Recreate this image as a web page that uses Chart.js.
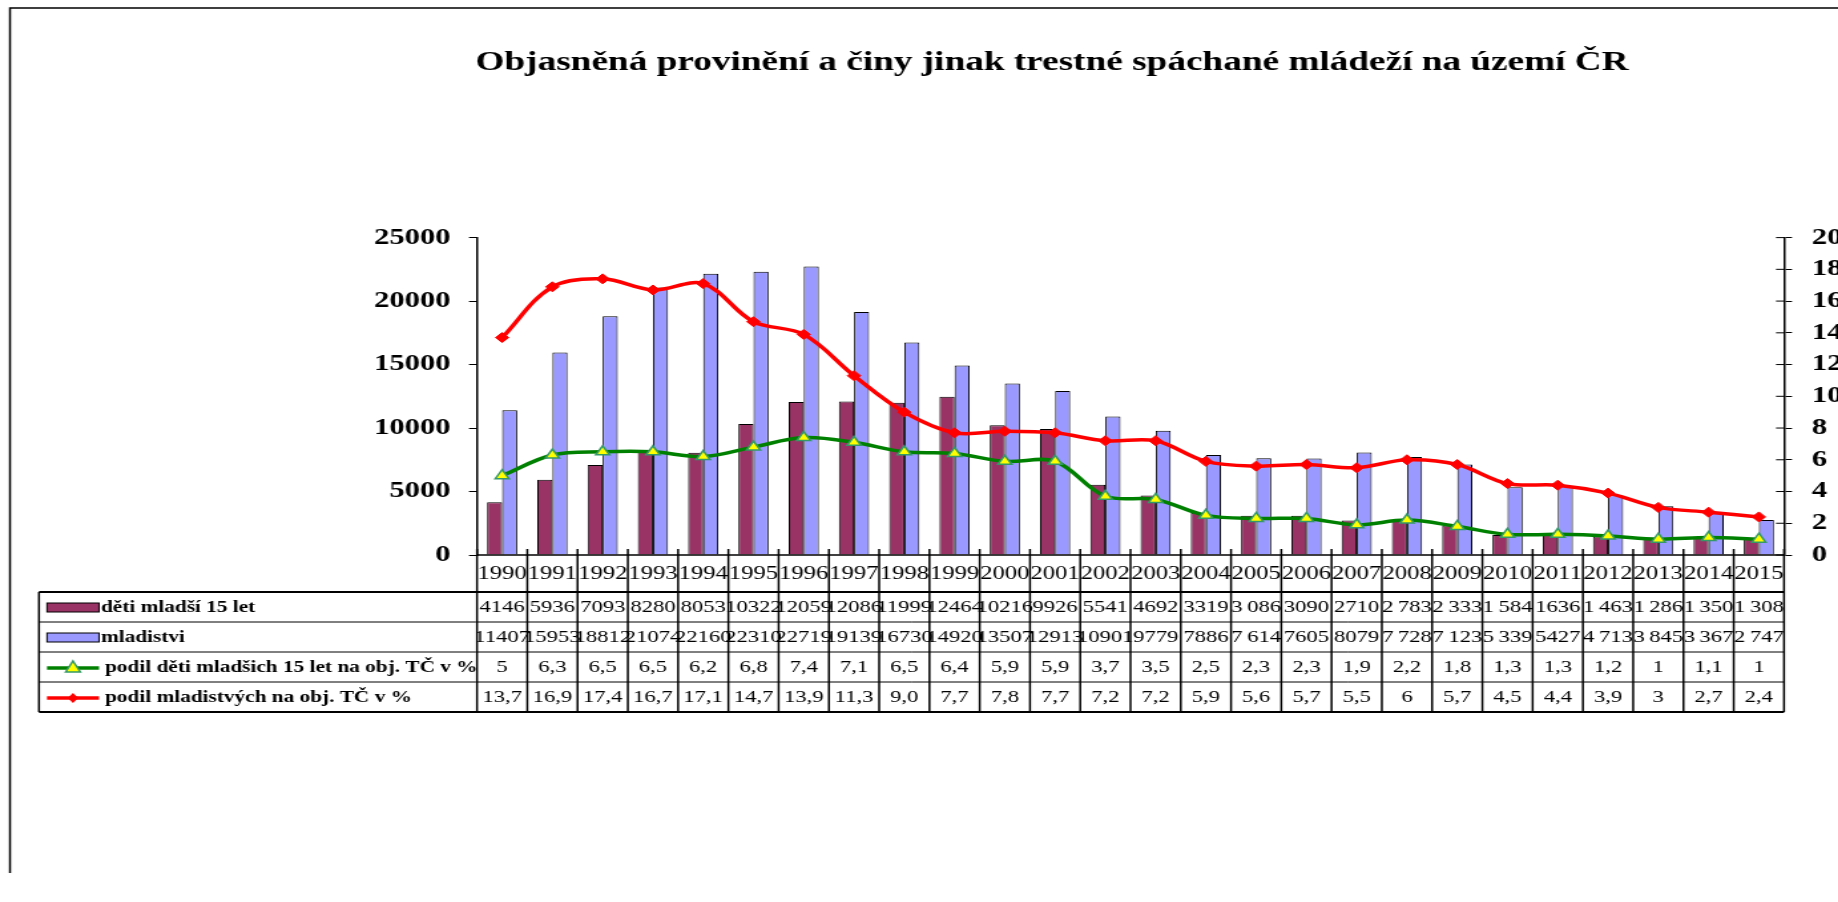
<!DOCTYPE html>
<html lang="cs">
<head>
<meta charset="utf-8">
<title>Objasněná provinění a činy jinak trestné spáchané mládeží na území ČR</title>
<script src="https://cdn.jsdelivr.net/npm/chart.js@4.4.1/dist/chart.umd.min.js"></script>
<style>
    html, body { margin: 0; padding: 0; background: #fff; overflow: hidden; }
    #wrap { width: 1838px; height: 902px; overflow: hidden; }
    /* the source picture is stretched sideways, so is the canvas */
    #chart { display: block; transform: scaleX(1.33); transform-origin: 0 0; }
</style>
</head>
<body>
<div id="wrap"><canvas id="chart" width="1382" height="902"></canvas></div>
<script>
// ── Data ──────────────────────────────
const years = ['1990', '1991', '1992', '1993', '1994', '1995', '1996', '1997', '1998', '1999', '2000', '2001', '2002',
    '2003', '2004', '2005', '2006', '2007', '2008', '2009', '2010', '2011', '2012', '2013', '2014', '2015'];
const kids = [4146, 5936, 7093, 8280, 8053, 10322, 12059, 12086, 11999, 12464, 10216, 9926, 5541,
    4692, 3319, 3086, 3090, 2710, 2783, 2333, 1584, 1636, 1463, 1286, 1350, 1308];
const youth = [11407, 15953, 18812, 21074, 22160, 22310, 22719, 19139, 16730, 14920, 13507, 12913, 10901,
    9779, 7886, 7614, 7605, 8079, 7728, 7123, 5339, 5427, 4713, 3845, 3367, 2747];
const kidsShare = [5, 6.3, 6.5, 6.5, 6.2, 6.8, 7.4, 7.1, 6.5, 6.4, 5.9, 5.9, 3.7,
    3.5, 2.5, 2.3, 2.3, 1.9, 2.2, 1.8, 1.3, 1.3, 1.2, 1, 1.1, 1];
const youthShare = [13.7, 16.9, 17.4, 16.7, 17.1, 14.7, 13.9, 11.3, 9.0, 7.7, 7.8, 7.7, 7.2,
    7.2, 5.9, 5.6, 5.7, 5.5, 6, 5.7, 4.5, 4.4, 3.9, 3, 2.7, 2.4];
// columns where the table writes the thousands with a space
const spacedCols = [15, 18, 19, 20, 22, 23, 24, 25];
const seriesNames = ['děti mladší 15 let', 'mladistvi', 'podil děti mladšich 15 let na obj. TČ v %', 'podil mladistvých na obj. TČ v %'];
const title = 'Objasněná provinění a činy jinak trestné spáchané mládeží na území ČR';

// ── Look ──────────────────────────────
const S = 1.33;                      // horizontal stretch of the canvas
const PURPLE = '#993366', LAVENDER = '#9999FF', GREEN = '#008000', RED = '#FF0000';
const SERIF = "'Liberation Serif', 'Times New Roman', serif";
const ROWS = [555, 592, 622, 652, 682, 712];   // table row edges (px)

function fmtCount(v, i) {
    const s = String(v);
    if (!spacedCols.includes(i) || s.length < 4) return s;
    return s.slice(0, s.length - 3) + '\u2009' + s.slice(-3);
}
function fmtShare(v, keepDecimal) {
    return (keepDecimal ? v.toFixed(1) : String(v)).replace('.', ',');
}

// ── Frame + table plugin ──────────────
const framePlugin = {
    id: 'frame',
    beforeDraw(chart) {
        const { ctx, width, height } = chart;
        ctx.save();
        ctx.fillStyle = '#fff';
        ctx.fillRect(0, 0, width, height);
        ctx.strokeStyle = '#000';
        ctx.lineWidth = 1.5;
        ctx.beginPath();
        ctx.moveTo(10 / S, 873);
        ctx.lineTo(10 / S, 8);
        ctx.lineTo(width, 8);
        ctx.stroke();
        ctx.restore();
    }
};

const tablePlugin = {
    id: 'dataTable',
    afterDraw(chart) {
        const { ctx, chartArea: area, scales } = chart;
        const x = scales.x;
        const colW = area.width / years.length;
        const tLeft = 39 / S;
        const line = (x1, y1, x2, y2, w) => {
            ctx.lineWidth = w;
            ctx.beginPath(); ctx.moveTo(x1, y1); ctx.lineTo(x2, y2); ctx.stroke();
        };
        ctx.save();
        ctx.strokeStyle = '#000';

        // right axis ticks also poke inside the plot
        const yR = scales.yR;
        yR.ticks.forEach(t => {
            const py = yR.getPixelForValue(t.value);
            line(yR.left - 6, py, yR.left, py, 1);
        });

        // grid
        line(area.left, ROWS[0], area.right, ROWS[0], 1.5);
        line(tLeft, ROWS[1], area.right, ROWS[1], 2);
        line(tLeft, ROWS[2], area.right, ROWS[2], 1);
        line(tLeft, ROWS[3], area.right, ROWS[3], 1);
        line(tLeft, ROWS[4], area.right, ROWS[4], 1);
        line(tLeft, ROWS[5], area.right, ROWS[5], 2);
        for (let i = 0; i <= years.length; i++) {
            const xx = area.left + i * colW;
            line(xx, ROWS[0] - 6, xx, ROWS[5], 1.5);
        }
        line(tLeft, ROWS[1], tLeft, ROWS[5], 1.5);

        // cells
        ctx.fillStyle = '#000';
        ctx.textAlign = 'center';
        ctx.textBaseline = 'middle';
        const mid = r => (ROWS[r] + ROWS[r + 1]) / 2 + 1;
        ctx.font = `18.5px ${SERIF}`;
        years.forEach((y, i) => ctx.fillText(y, x.getPixelForValue(i), mid(0)));
        ctx.font = `17px ${SERIF}`;
        kids.forEach((v, i) => ctx.fillText(fmtCount(v, i), x.getPixelForValue(i), mid(1)));
        youth.forEach((v, i) => ctx.fillText(fmtCount(v, i), x.getPixelForValue(i), mid(2)));
        kidsShare.forEach((v, i) => ctx.fillText(fmtShare(v, false), x.getPixelForValue(i), mid(3)));
        youthShare.forEach((v, i) => ctx.fillText(fmtShare(v, i === 8), x.getPixelForValue(i), mid(4)));

        // legend keys
        const kx1 = 47 / S, kx2 = 99 / S, kc = (kx1 + kx2) / 2;
        ctx.lineWidth = 1;
        [[PURPLE, 1], [LAVENDER, 2]].forEach(([c, r]) => {
            ctx.fillStyle = c;
            ctx.fillRect(kx1, mid(r) - 5, kx2 - kx1, 9);
            ctx.strokeRect(kx1, mid(r) - 5, kx2 - kx1, 9);
        });
        ctx.strokeStyle = GREEN;
        line(kx1, mid(3), kx2, mid(3), 3.5);
        ctx.fillStyle = '#FFFF00';
        ctx.strokeStyle = '#339966';
        ctx.lineWidth = 1.5;
        ctx.beginPath();
        ctx.moveTo(kc, mid(3) - 7); ctx.lineTo(kc + 5.5, mid(3) + 4); ctx.lineTo(kc - 5.5, mid(3) + 4);
        ctx.closePath(); ctx.fill(); ctx.stroke();
        ctx.strokeStyle = RED;
        line(kx1, mid(4), kx2, mid(4), 3.5);
        ctx.fillStyle = RED;
        ctx.beginPath();
        ctx.moveTo(kc, mid(4) - 5); ctx.lineTo(kc + 4, mid(4)); ctx.lineTo(kc, mid(4) + 5); ctx.lineTo(kc - 4, mid(4));
        ctx.closePath(); ctx.fill();

        ctx.fillStyle = '#000';
        ctx.textAlign = 'left';
        ctx.font = `bold 16px ${SERIF}`;
        seriesNames.forEach((n, r) => ctx.fillText(n, (r < 2 ? 101 : 105) / S, mid(r + 1)));
        ctx.restore();
    }
};

// ── Chart ─────────────────────────────
const tickFont = { family: SERIF, size: 23, weight: 'bold' };

new Chart(document.getElementById('chart'), {
    type: 'bar',
    data: {
        labels: years,
        datasets: [
            { type: 'line', label: seriesNames[3], data: youthShare, yAxisID: 'yR', order: 0,
              borderColor: RED, borderWidth: 3.5, tension: 0.35,
              pointStyle: 'rectRot', pointRadius: 5, pointBackgroundColor: RED, pointBorderColor: RED, pointBorderWidth: 1 },
            { type: 'line', label: seriesNames[2], data: kidsShare, yAxisID: 'yR', order: 1,
              borderColor: GREEN, borderWidth: 3.5, tension: 0.35,
              pointStyle: 'triangle', pointRadius: 6, pointBackgroundColor: '#FFFF00', pointBorderColor: '#339966', pointBorderWidth: 1.5 },
            { label: seriesNames[0], data: kids, yAxisID: 'yL', order: 2,
              backgroundColor: PURPLE, borderColor: '#000', borderWidth: 1,
              categoryPercentage: 0.6, barPercentage: 1.0 },
            { label: seriesNames[1], data: youth, yAxisID: 'yL', order: 2,
              backgroundColor: LAVENDER, borderColor: '#000', borderWidth: 1,
              categoryPercentage: 0.6, barPercentage: 1.0 }
        ]
    },
    options: {
        responsive: false,
        animation: false,
        devicePixelRatio: 1,
        layout: { padding: { left: 200, right: 0, top: 0, bottom: 0 } },
        plugins: {
            legend: { display: false },
            tooltip: { enabled: false },
            title: {
                display: true, text: title, color: '#000',
                font: { family: SERIF, size: 28, weight: 'bold' },
                padding: { top: 46, bottom: 158 }
            }
        },
        scales: {
            x: {
                grid: { display: false }, border: { display: false },
                ticks: { display: false },
                afterFit: s => { s.height = 902 - ROWS[0]; }
            },
            yL: {
                position: 'left', min: 0, max: 25000,
                ticks: { stepSize: 5000, color: '#000', font: tickFont, padding: 14, callback: v => String(v) },
                grid: { drawOnChartArea: false, tickLength: 6, tickColor: '#000', tickWidth: 1 },
                border: { color: '#000', width: 1.5 },
                afterFit: s => { s.width = 477 / S - 200; }
            },
            yR: {
                position: 'right', min: 0, max: 20,
                ticks: { stepSize: 2, color: '#000', font: tickFont, padding: 15, callback: v => String(v) },
                grid: { drawOnChartArea: false, tickLength: 6, tickColor: '#000', tickWidth: 1 },
                border: { color: '#000', width: 1.5 },
                afterFit: s => { s.width = 1382 - 1784 / S; }
            }
        }
    },
    plugins: [framePlugin, tablePlugin]
});
</script>
</body>
</html>
